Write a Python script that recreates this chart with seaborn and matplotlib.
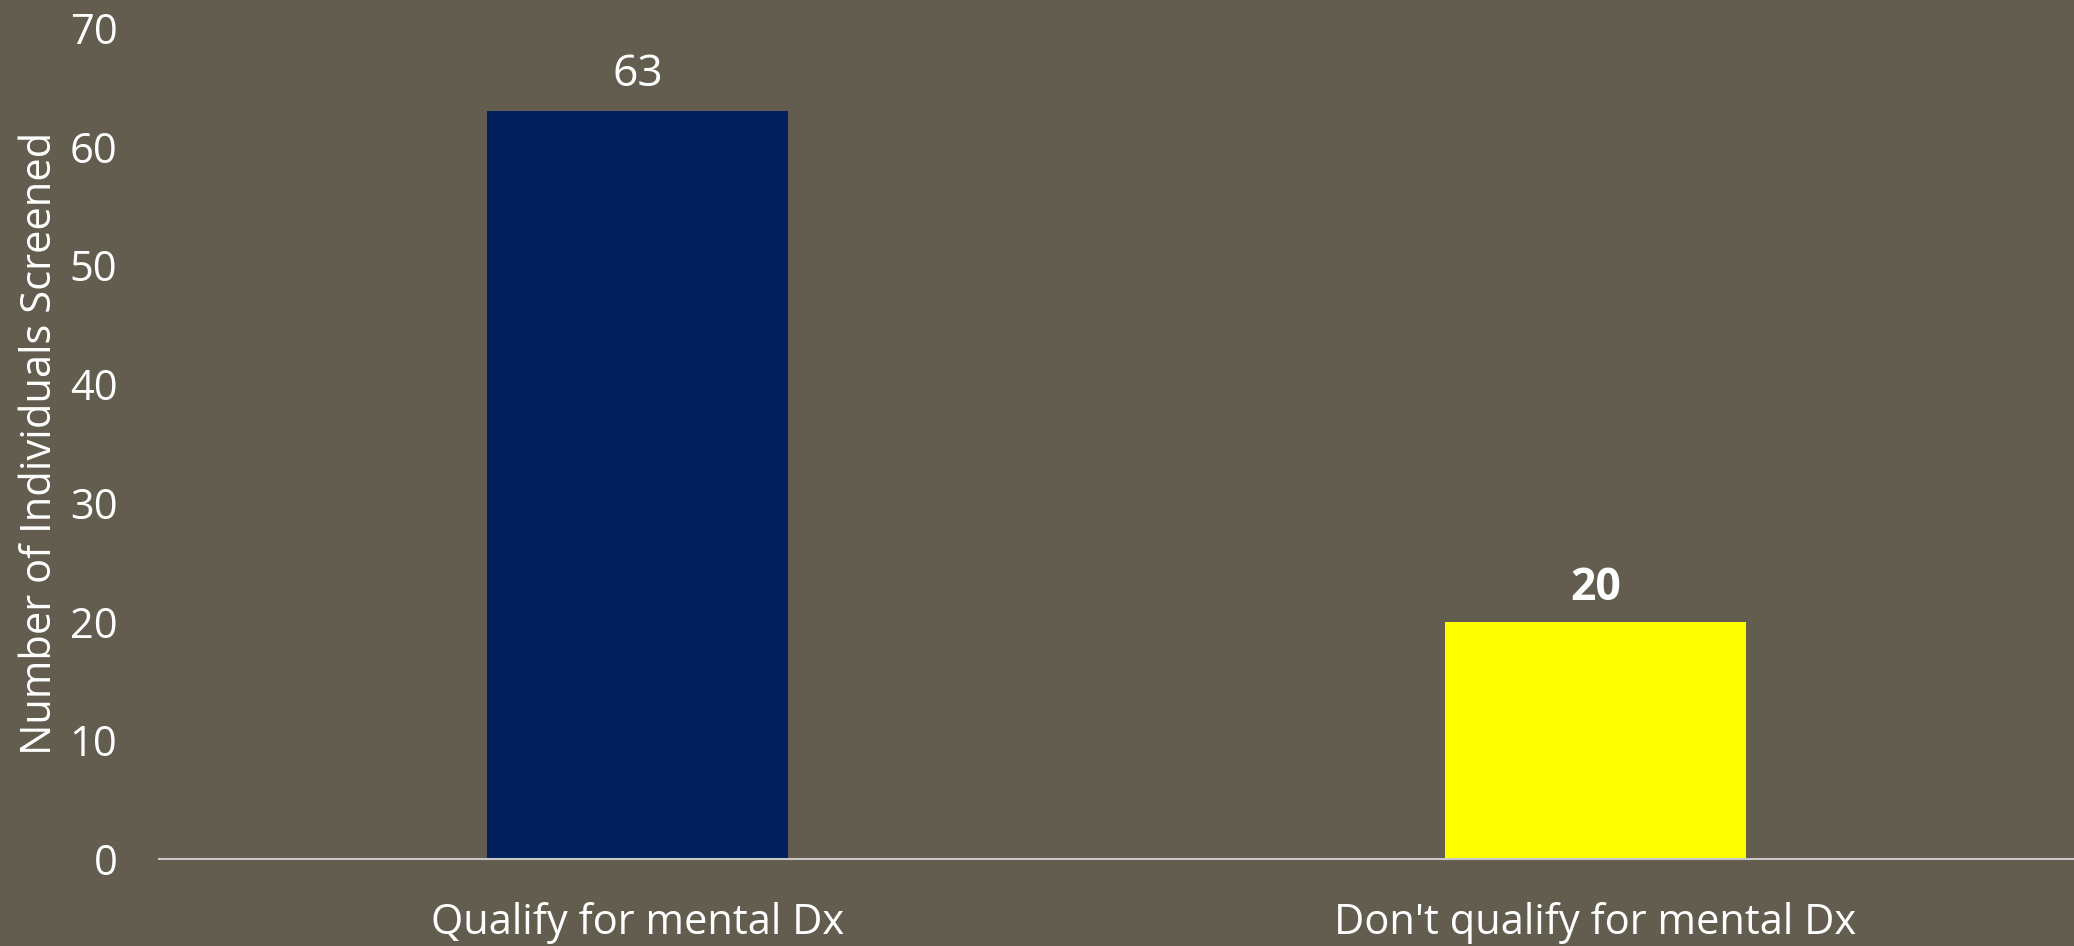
import matplotlib
matplotlib.use("Agg")
import matplotlib.pyplot as plt
import seaborn as sns
import pandas as pd

# Screening outcome counts
categories = ["Qualify for mental Dx", "Don't qualify for mental Dx"]
counts = [63, 20]
bar_colors = ["#001F5C", "#FFFF00"]
label_weights = ["normal", "bold"]
label_offsets = [26, 24]
y_ticks = [0, 10, 20, 30, 40, 50, 60, 70]

bg = "#625D4E"

sns.set_theme(style="white")
plt.rcParams["font.family"] = ["Open Sans", "DejaVu Sans"]

df = pd.DataFrame({"category": categories, "count": counts})

fig = plt.figure(figsize=(20.74, 9.46), dpi=100, facecolor=bg)
ax = fig.add_axes([0.0767, 0.092, 1.0 - 0.0767, 0.9704 - 0.092])
ax.set_facecolor(bg)

sns.barplot(data=df, x="category", y="count", hue="category",
            palette=dict(zip(categories, bar_colors)), width=0.3145,
            legend=False, ax=ax, saturation=1.0, linewidth=0)

ax.set_xlim(-0.5, 1.5)
ax.set_ylim(0, 70)
ax.set_yticks(y_ticks)
ax.set_yticklabels([str(t) for t in y_ticks])

for s in ["top", "right", "left"]:
    ax.spines[s].set_visible(False)
ax.spines["bottom"].set_color("#C8C8C8")
ax.spines["bottom"].set_linewidth(1.5)

ax.tick_params(axis="y", length=0, pad=30, labelsize=30, labelcolor="white")
ax.tick_params(axis="x", length=0, pad=31, labelsize=30, labelcolor="white")
ax.set_xlabel("")
ax.set_ylabel("Number of Individuals Screened", fontsize=30, color="white", labelpad=6)
ax.grid(False)

for i, (v, w, off) in enumerate(zip(counts, label_weights, label_offsets)):
    ax.annotate(str(v), xy=(i, v), xytext=(0, off), textcoords="offset points",
                ha="center", va="center", fontsize=32, color="white", fontweight=w)

fig.savefig("out.png", dpi=100, facecolor=bg)
